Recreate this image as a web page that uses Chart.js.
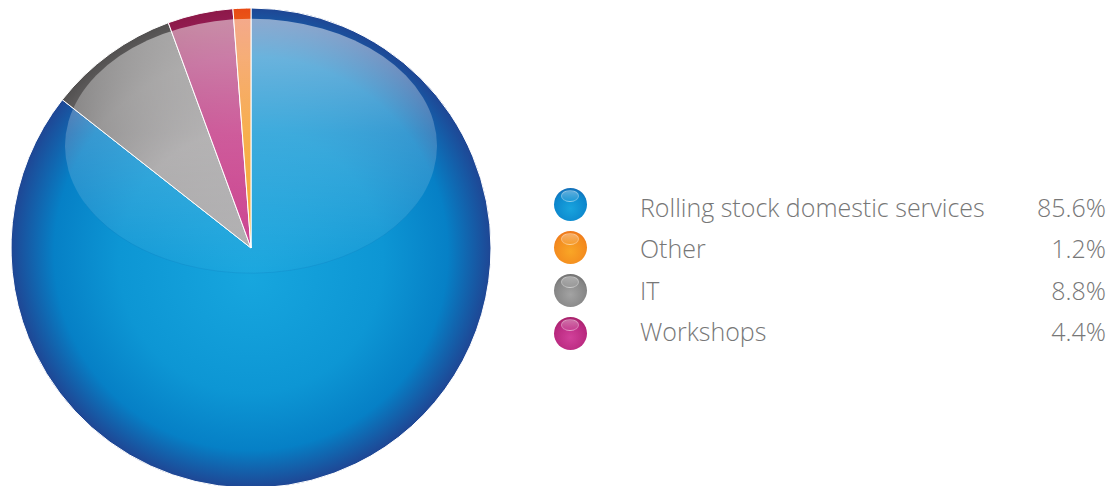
<!DOCTYPE html>
<html>
<head>
<meta charset="utf-8">
<script src="https://cdn.jsdelivr.net/npm/chart.js@4/dist/chart.umd.min.js"></script>
<style>
  html, body { margin: 0; padding: 0; background: #fff; overflow: hidden; }
  body { width: 1112px; height: 486px; position: relative; font-family: "Open Sans", "Noto Sans", sans-serif; }
  #pie { position: absolute; left: 0; top: 0; }
  .dot { position: absolute; width: 33px; height: 33px; border-radius: 50%; }
  .dot::after { content: ""; position: absolute; left: 22%; top: 7%; width: 56%; height: 38%;
    border-radius: 50%; border: 1px solid rgba(255,255,255,0.3); box-sizing: border-box;
    background: linear-gradient(rgba(255,255,255,0.35), rgba(255,255,255,0.05)); }
  .lbl, .val { position: absolute; font-size: 25px; font-weight: 300; color: #777777; line-height: 1; white-space: nowrap; }
  .val { text-align: right; }
</style>
</head>
<body>
<canvas id="pie" width="502" height="496"></canvas>
<div id="legend"></div>
<script>
// Cost breakdown (share of total, %)
const categories = ['Rolling stock domestic services', 'Other', 'IT', 'Workshops'];
const shares = [85.6, 1.2, 8.8, 4.4];
const valueLabels = ['85.6%', '1.2%', '8.8%', '4.4%'];
// Slice order going clockwise from 12 o'clock
const pieOrder = [0, 2, 3, 1];

// Radial colour ramps per category: [centre, mid, outer, rim]
const ramps = [
  ['#17a6de', '#0d96d4', '#0680c6', '#1f4694'],
  ['#f8ab28', '#f59a22', '#f0771c', '#e84a14'],
  ['#b0afb1', '#a2a0a1', '#7d7b7b', '#525050'],
  ['#cc3c8e', '#c23382', '#a8256c', '#8c1848']
];
const dotRamps = [
  ['#18a4de', '#0c86cc', '#1f4a98'],
  ['#f9a626', '#f38a1e', '#e85a14'],
  ['#a3a3a3', '#858585', '#555555'],
  ['#d1419a', '#b8287e', '#8e1a4a']
];

const RADIUS = 240;

function sliceFill(ctx) {
  const chart = ctx.chart;
  const area = chart.chartArea;
  if (!area) return ramps[pieOrder[ctx.dataIndex]][1];
  const cx = (area.left + area.right) / 2;
  const cy = (area.top + area.bottom) / 2;
  const r = ramps[pieOrder[ctx.dataIndex]];
  const g = chart.ctx.createRadialGradient(cx, cy + 30, 0, cx, cy, RADIUS);
  g.addColorStop(0, r[0]);
  g.addColorStop(0.55, r[1]);
  g.addColorStop(0.82, r[2]);
  g.addColorStop(1, r[3]);
  return g;
}

// Glossy highlight ellipse over the upper half of the pie
const glossPlugin = {
  id: 'gloss',
  afterDatasetsDraw(chart) {
    const area = chart.chartArea;
    const cx = (area.left + area.right) / 2;
    const cy = (area.top + area.bottom) / 2;
    const ex = cx, ey = cy - 0.425 * RADIUS;
    const rx = 0.775 * RADIUS, ry = 0.53 * RADIUS;
    const c = chart.ctx;
    c.save();
    const g = c.createLinearGradient(0, ey - ry, 0, ey + ry);
    g.addColorStop(0, 'rgba(255,255,255,0.50)');
    g.addColorStop(0.45, 'rgba(255,255,255,0.20)');
    g.addColorStop(1, 'rgba(255,255,255,0.02)');
    c.beginPath();
    c.ellipse(ex, ey, rx, ry, 0, 0, Math.PI * 2);
    c.fillStyle = g;
    c.fill();
    c.lineWidth = 0.8;
    c.strokeStyle = 'rgba(10,90,160,0.18)';
    c.beginPath();
    c.ellipse(ex, ey, rx, ry, 0, 0.15 * Math.PI, 0.85 * Math.PI);
    c.stroke();
    c.restore();
  }
};

new Chart(document.getElementById('pie'), {
  type: 'pie',
  data: {
    labels: pieOrder.map(i => categories[i]),
    datasets: [{
      data: pieOrder.map(i => shares[i]),
      backgroundColor: sliceFill,
      borderColor: '#ffffff',
      borderWidth: 1,
      radius: RADIUS
    }]
  },
  options: {
    responsive: false,
    animation: false,
    rotation: 0,
    layout: { padding: 0 },
    plugins: { legend: { display: false }, tooltip: { enabled: false } },
    events: []
  },
  plugins: [glossPlugin]
});

// Legend: marker, category name, share
const legend = document.getElementById('legend');
const dotY = [204, 247, 290, 333];
const baseY = [217, 258.5, 300, 341.5];
const ascent = 22.2;
categories.forEach((name, i) => {
  const d = dotRamps[i];
  const dot = document.createElement('div');
  dot.className = 'dot';
  dot.style.left = (570 - 16.5) + 'px';
  dot.style.top = (dotY[i] - 16.5) + 'px';
  dot.style.background = `radial-gradient(circle at 50% 62%, ${d[0]} 0%, ${d[1]} 62%, ${d[2]} 100%)`;
  legend.appendChild(dot);

  const lbl = document.createElement('div');
  lbl.className = 'lbl';
  lbl.textContent = name;
  lbl.style.left = '640px';
  lbl.style.top = (baseY[i] - ascent) + 'px';
  legend.appendChild(lbl);

  const val = document.createElement('div');
  val.className = 'val';
  val.textContent = valueLabels[i];
  val.style.right = (1112 - 1106) + 'px';
  val.style.top = (baseY[i] - ascent) + 'px';
  legend.appendChild(val);
});
</script>
</body>
</html>
